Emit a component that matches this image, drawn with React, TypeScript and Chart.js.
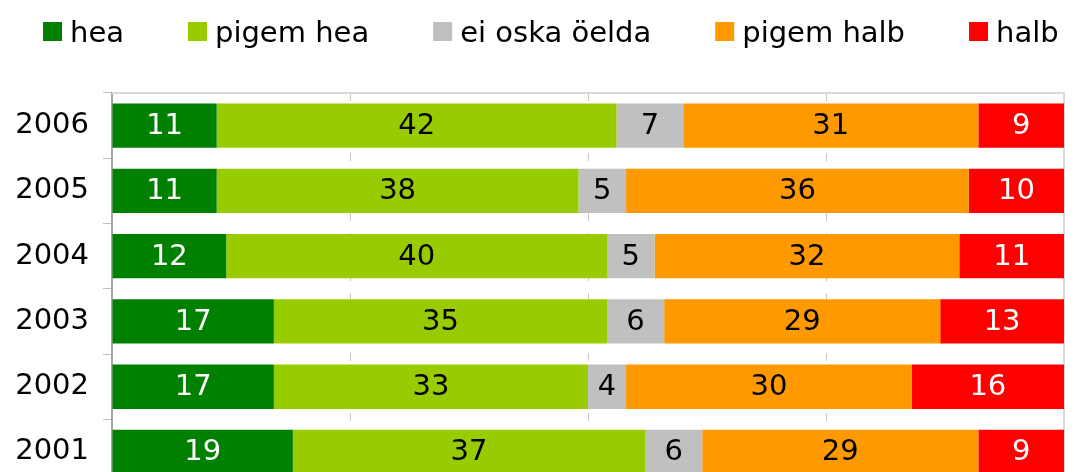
import React, { useEffect, useRef } from "react";
import { Chart, registerables } from "chart.js";

Chart.register(...registerables);

const years = ["2006", "2005", "2004", "2003", "2002", "2001"];
const seriesNames = ["hea", "pigem hea", "ei oska öelda", "pigem halb", "halb"];
const hea = [11, 11, 12, 17, 17, 19];
const pigemHea = [42, 38, 40, 35, 33, 37];
const eiOska = [7, 5, 5, 6, 4, 6];
const pigemHalb = [31, 36, 32, 29, 30, 29];
const halb = [9, 10, 11, 13, 16, 9];
const seriesValues = [hea, pigemHea, eiOska, pigemHalb, halb];
const colors = ["#008000", "#99CC00", "#C0C0C0", "#FF9900", "#FF0000"];
const labelColors = ["#ffffff", "#000000", "#000000", "#000000", "#ffffff"];

const FONT = "'DejaVu Sans', Verdana, sans-serif";
const FONT_SIZE = 29;

const legendPlugin = {
  id: "customLegend",
  afterDraw(chart: any) {
    const ctx = chart.ctx;
    ctx.save();
    ctx.font = `${FONT_SIZE}px ${FONT}`;
    ctx.textBaseline = "alphabetic";
    ctx.textAlign = "left";
    let x = 43;
    chart.data.datasets.forEach((ds: any) => {
      ctx.fillStyle = ds.backgroundColor;
      ctx.fillRect(x, 22, 19, 19);
      ctx.fillStyle = "#000000";
      ctx.fillText(ds.label, x + 27, 42);
      x += 27 + ctx.measureText(ds.label).width + 64;
    });
    ctx.restore();
  },
};

const framePlugin = {
  id: "frame",
  beforeDatasetsDraw(chart: any) {
    const { ctx, chartArea } = chart;
    ctx.save();
    ctx.strokeStyle = "#d9d9d9";
    ctx.lineWidth = 2;
    ctx.beginPath();
    ctx.moveTo(chartArea.left, chartArea.top);
    ctx.lineTo(chartArea.right, chartArea.top);
    ctx.lineTo(chartArea.right, chartArea.bottom);
    ctx.stroke();
    ctx.restore();
  },
};

const dataLabelPlugin = {
  id: "dataLabels",
  afterDatasetsDraw(chart: any) {
    const ctx = chart.ctx;
    ctx.save();
    ctx.font = `${FONT_SIZE}px ${FONT}`;
    ctx.textAlign = "center";
    ctx.textBaseline = "middle";
    chart.data.datasets.forEach((ds: any, i: number) => {
      const meta = chart.getDatasetMeta(i);
      meta.data.forEach((el: any, j: number) => {
        const p = el.getProps(["x", "y", "base"], true);
        ctx.fillStyle = labelColors[i];
        ctx.fillText(String(ds.data[j]), (p.x + p.base) / 2, p.y + 1);
      });
    });
    ctx.restore();
  },
};

export default function App() {
  const ref = useRef<HTMLCanvasElement>(null);

  useEffect(() => {
    if (!ref.current) return;
    Chart.defaults.font.family = FONT;
    const chart = new Chart(ref.current, {
      type: "bar",
      data: {
        labels: years,
        datasets: seriesNames.map((name, i) => ({
          label: name,
          data: seriesValues[i],
          backgroundColor: colors[i],
          borderWidth: 0,
          barPercentage: 0.68,
          categoryPercentage: 1,
        })),
      },
      options: {
        indexAxis: "y",
        responsive: false,
        devicePixelRatio: 1,
        animation: false,
        layout: { padding: { top: 93, right: 10, left: 0, bottom: 0 } },
        plugins: {
          legend: { display: false },
          tooltip: { enabled: false },
        },
        scales: {
          x: {
            stacked: true,
            min: 0,
            max: 100,
            ticks: { display: false, stepSize: 25 },
            grid: {
              drawTicks: false,
              color: (c: any) =>
                c.tick && (c.tick.value === 0 || c.tick.value === 100)
                  ? "rgba(0,0,0,0)"
                  : "#c8c8c8",
              lineWidth: 1,
            },
            border: { display: false, dash: [8, 12] },
            afterFit: (scale: any) => {
              scale.height = 0;
            },
          },
          y: {
            stacked: true,
            ticks: {
              color: "#000000",
              font: { size: FONT_SIZE, family: FONT },
              padding: 14,
            },
            grid: {
              drawOnChartArea: false,
              drawTicks: true,
              tickLength: 9,
              tickColor: "#bfbfbf",
              tickWidth: 1,
              offset: true,
            },
            border: { display: true, color: "#a6a6a6", width: 2 },
            afterFit: (scale: any) => {
              scale.width = 112;
            },
          },
        },
      },
      plugins: [framePlugin, dataLabelPlugin, legendPlugin],
    });
    return () => chart.destroy();
  }, []);

  return (
    <div
      style={{
        position: "fixed",
        left: 0,
        top: 0,
        width: 1074,
        height: 472,
        overflow: "hidden",
        background: "#ffffff",
      }}
    >
      <canvas
        ref={ref}
        width={1074}
        height={516}
        style={{ display: "block", width: 1074, height: 516 }}
      />
    </div>
  );
}
